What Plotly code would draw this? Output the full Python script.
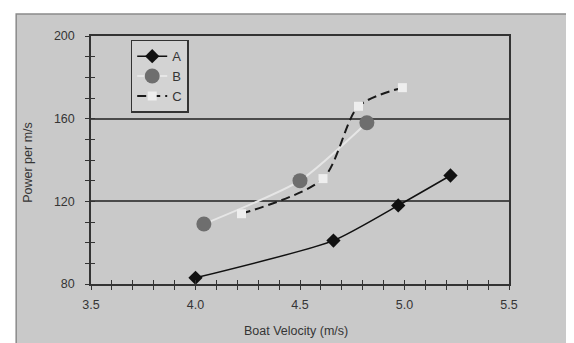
import plotly.graph_objects as go

# ---- data ----
a_x = [4.00, 4.66, 4.97, 5.22]
a_y = [83, 101, 118, 132.5]
b_x = [4.04, 4.50, 4.82]
b_y = [109, 130, 158]
c_x = [4.22, 4.61, 4.78, 4.99]
c_y = [114, 131, 166, 175]
series_names = ["A", "B", "C"]
x_tick_vals = [3.5, 4.0, 4.5, 5.0, 5.5]
x_tick_labels = ["3.5", "4.0", "4.5", "5.0", "5.5"]
y_tick_vals = [80, 120, 160, 200]
y_tick_labels = ["80", "120", "160", "200"]
x_title = "Boat Velocity (m/s)"
y_title = "Power per m/s"

BG = "#c9c9c9"
TXT = "#353535"
FONT = "Liberation Sans, Arial, sans-serif"

fig = go.Figure()
fig.add_trace(go.Scatter(
    x=a_x, y=a_y, name=series_names[0], mode="lines+markers",
    line=dict(color="#111111", width=1.5, shape="spline", smoothing=0.6),
    marker=dict(symbol="diamond", size=11, color="#111111"),
))
fig.add_trace(go.Scatter(
    x=b_x, y=b_y, name=series_names[1], mode="lines+markers",
    line=dict(color="#e6e6e6", width=2, shape="spline", smoothing=0.6),
    marker=dict(symbol="circle", size=15, color="#6e6e6e"),
))
fig.add_trace(go.Scatter(
    x=c_x, y=c_y, name=series_names[2], mode="lines+markers",
    line=dict(color="#1a1a1a", width=2, dash="9px,5px", shape="spline", smoothing=0.8),
    marker=dict(symbol="square", size=9, color="#eeeeee"),
))
# dummy trace so that the overlay tick axes exist
fig.add_trace(go.Scatter(x=[], y=[], xaxis="x2", yaxis="y2", showlegend=False, hoverinfo="skip"))

axis_common = dict(showline=True, linecolor="#333333", linewidth=1.5,
                   tickfont=dict(family=FONT, size=12.5, color=TXT),
                   ticks="outside", ticklen=4, tickwidth=1.2, tickcolor="#333333")

fig.update_layout(
    width=574, height=343,
    margin=dict(l=83, r=73, t=28, b=67),
    paper_bgcolor="white",
    plot_bgcolor=BG,
    font=dict(family=FONT, color=TXT),
    xaxis=dict(range=[3.5, 5.5], tickvals=x_tick_vals, ticktext=x_tick_labels,
               showgrid=False, zeroline=False, mirror=True, ticklabelstandoff=4,
               minor=dict(dtick=0.1, ticks="outside", ticklen=4, tickcolor="#333333", showgrid=False),
               **axis_common),
    yaxis=dict(range=[80, 200], tickvals=y_tick_vals, ticktext=y_tick_labels,
               showgrid=True, gridcolor="#4a4a4a", gridwidth=1.5, zeroline=False, mirror=True,
               ticklabelstandoff=8,
               minor=dict(dtick=10, ticks="outside", ticklen=4, tickcolor="#333333", showgrid=False),
               **axis_common),
    xaxis2=dict(range=[3.5, 5.5], overlaying="x", anchor="y2", side="bottom",
                dtick=0.1, tick0=3.5, ticks="inside", ticklen=4, tickcolor="#333333",
                showticklabels=False, showgrid=False, zeroline=False, showline=False),
    yaxis2=dict(range=[80, 200], overlaying="y", anchor="x2", side="left",
                dtick=10, tick0=80, ticks="inside", ticklen=4, tickcolor="#333333",
                showticklabels=False, showgrid=False, zeroline=False, showline=False),
    legend=dict(x=0.095, y=0.985, xanchor="left", yanchor="top",
                bgcolor="#d3d3d3", bordercolor="#333333", borderwidth=1.5,
                font=dict(family=FONT, size=13, color=TXT),
                itemwidth=30, tracegroupgap=0),
    showlegend=True,
)

# outer chart frame
fig.add_shape(type="rect", xref="paper", yref="paper",
              x0=-0.179, x1=1.25, y0=-0.266, y1=1.089,
              fillcolor=BG, line=dict(color="#8a8a8a", width=1.5), layer="below")

fig.add_annotation(text=x_title, xref="paper", yref="paper", x=0.49, y=-0.19,
                   showarrow=False, yanchor="middle",
                   font=dict(family=FONT, size=12.5, color=TXT))
fig.add_annotation(text=y_title, xref="paper", yref="paper", x=-0.15, y=0.49,
                   showarrow=False, textangle=-90, xanchor="center",
                   font=dict(family=FONT, size=12.5, color=TXT))

fig.write_html("out.html")
